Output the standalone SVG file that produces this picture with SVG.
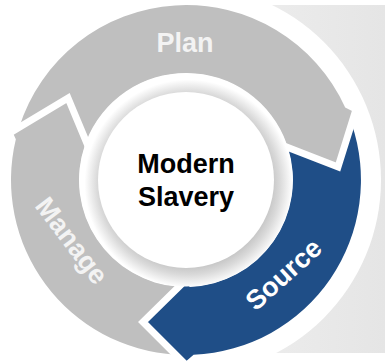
<svg xmlns="http://www.w3.org/2000/svg" width="385" height="361" viewBox="0 0 385 361">
  <defs>
    <linearGradient id="panelFill" x1="0" y1="0" x2="1" y2="0">
      <stop offset="0" stop-color="#ececec"/>
      <stop offset="1" stop-color="#e5e5e5"/>
    </linearGradient>
    <radialGradient id="ringShade" gradientUnits="userSpaceOnUse" cx="188.5" cy="183.5" r="104">
      <stop offset="0.80" stop-color="#c6c6c6"/>
      <stop offset="0.88" stop-color="#dadada"/>
      <stop offset="1" stop-color="#ffffff"/>
    </radialGradient>
  </defs>
  <style>
    .band-grey { fill: #bfbfbf; }
    .band-blue { fill: #1f4e87; }
    .gap { fill: none; stroke: #ffffff; stroke-width: 7; stroke-linejoin: miter; }
    .label { font-family: "Liberation Sans", Arial, sans-serif; font-weight: bold; text-anchor: middle; }
    .on-grey { fill: #f3f3f3; font-size: 27px; }
    .on-blue { fill: #ffffff; font-size: 27px; }
    .core { fill: #000000; font-size: 27px; }
  </style>

  <!-- page background, side panel and white halo around the cycle -->
  <rect x="0" y="0" width="385" height="361" fill="#ffffff"/>
  <rect x="266" y="5" width="119" height="348" fill="url(#panelFill)"/>
  <circle cx="186" cy="180" r="195" fill="#ffffff"/>

  <!-- cycle segments (centre 186,180; band radii 107..175) -->
  <g id="plan">
    <path class="band-grey" d="M19.1,127.5 A175,175 0 0 1 345.2,107.4 L355,112.6 L338,167 L284,146 L286.55,143.4 A107,107 0 0 0 86.1,141.5 L68,98 Z"/>
    <text class="label on-grey" x="185" y="52" font-size="28">Plan</text>
  </g>

  <g id="source">
    <path class="band-blue" d="M351.6,123.5 A175,175 0 0 1 193.6,354.8 L184,363 L143,322 L185.8,280 L189.7,286.9 A107,107 0 0 0 287.95,147.56 L338,167 Z"/>
    <text class="label on-blue" x="289.7" y="281.2" transform="rotate(-42 289.7 281.2)">Source</text>
  </g>

  <g id="manage">
    <path class="band-grey" d="M175.7,354.7 A175,175 0 0 1 15.84,139.15 L12.3,131.5 L68,98 L87.6,145.1 L84.83,145.16 A107,107 0 0 0 178.9,286.8 L143,322 Z"/>
    <text class="label on-grey" x="64.4" y="246.2" transform="rotate(52.9 64.4 246.2)">Manage</text>
  </g>

  <!-- white chevron seams between consecutive segments -->
  <g id="connectors">
    <polyline class="gap" points="356.5,107.9 338,167 282.1,145.3"/>
    <polyline class="gap" points="186.8,365.8 143,322 187.3,278.6"/>
    <polyline class="gap" points="10.6,132.6 68,98 88.4,146.9"/>
  </g>

  <!-- central hub -->
  <g id="hub">
    <circle cx="186" cy="180" r="106.5" fill="url(#ringShade)"/>
    <circle cx="186" cy="180" r="88" fill="#ffffff"/>
    <text class="label core" x="186" y="173">Modern</text>
    <text class="label core" x="186" y="205.5">Slavery</text>
  </g>
</svg>
